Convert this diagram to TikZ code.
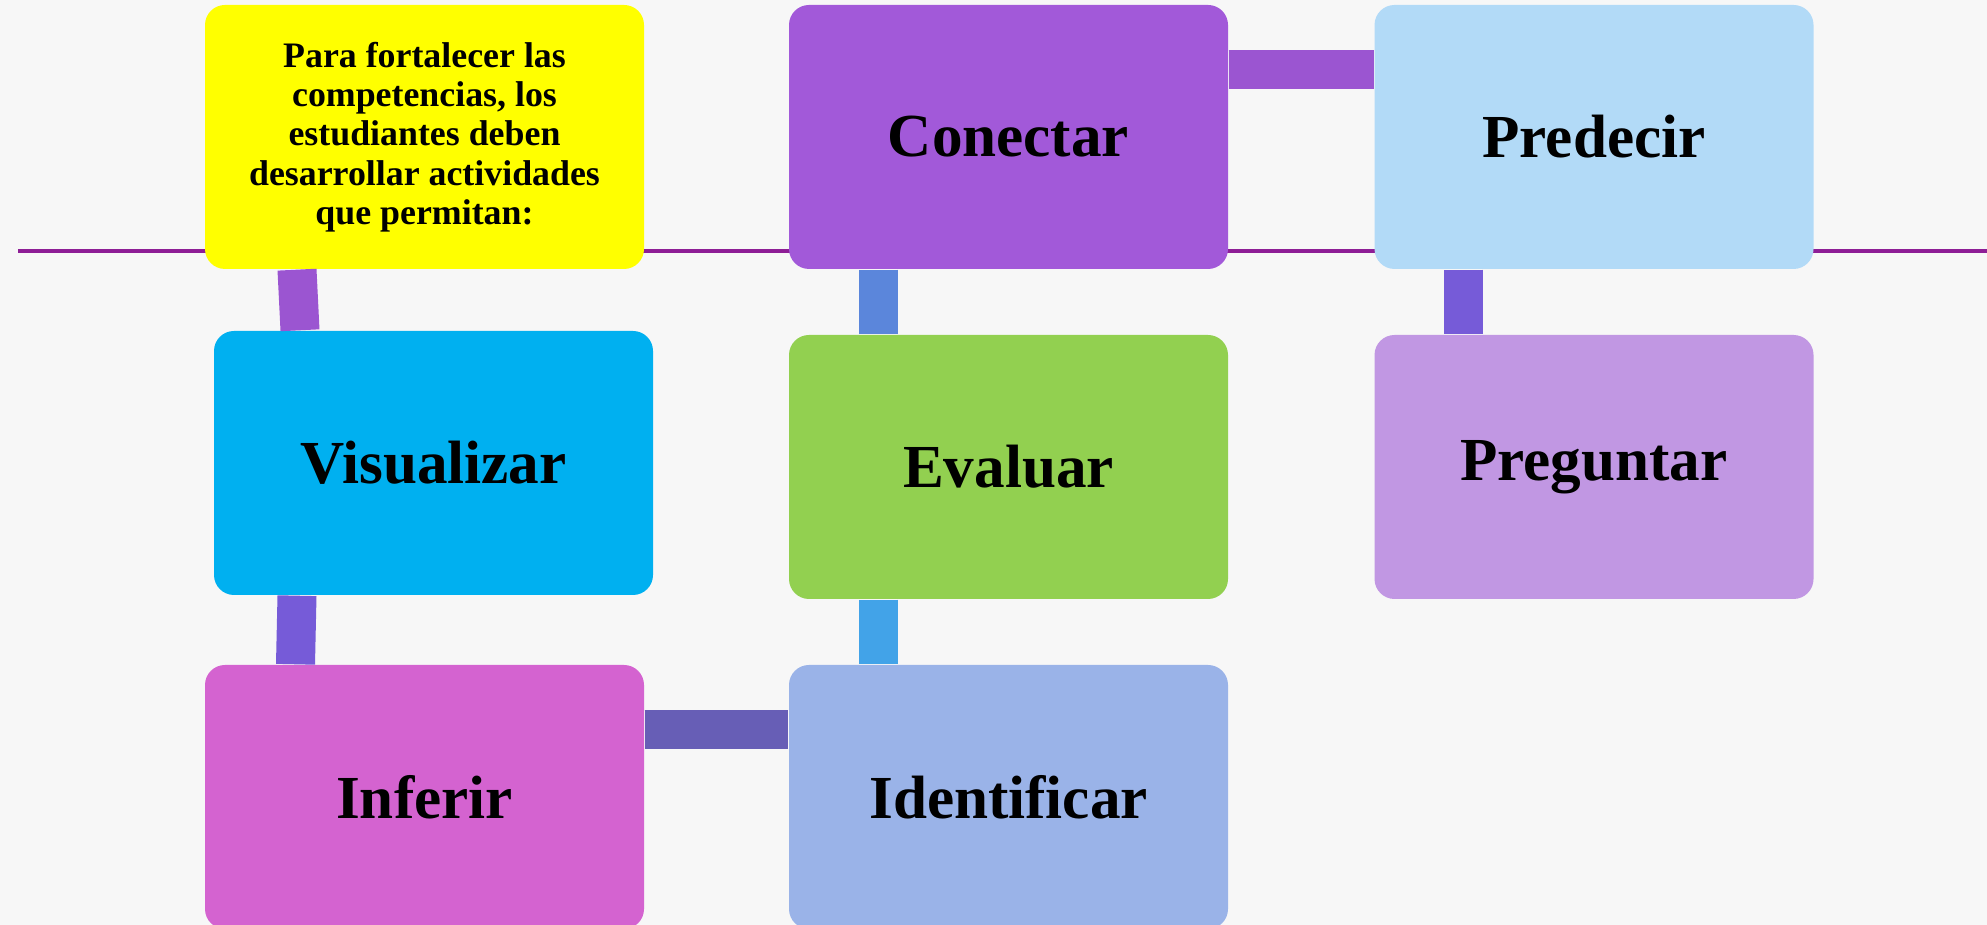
\documentclass[tikz,border=0pt]{standalone}
\usepackage{fontspec}
\setmainfont{Liberation Serif}
\definecolor{fondo}{HTML}{F7F7F7}
\definecolor{raya}{HTML}{8E1E96}
\definecolor{amarillo}{HTML}{FFFF00}
\definecolor{morado}{HTML}{A259D9}
\definecolor{celeste}{HTML}{B2DAF7}
\definecolor{azul}{HTML}{00B0F0}
\definecolor{verde}{HTML}{92D050}
\definecolor{lila}{HTML}{C197E3}
\definecolor{rosa}{HTML}{D463D0}
\definecolor{grisazul}{HTML}{9AB3E8}
\definecolor{e1}{HTML}{9B55D1}
\definecolor{e2}{HTML}{765BD8}
\definecolor{e3}{HTML}{675EB6}
\definecolor{e4}{HTML}{42A3E8}
\definecolor{e5}{HTML}{5B86DB}
\tikzset{caja/.style={rectangle, rounded corners=0.2cm, minimum width=4.39cm, minimum height=2.64cm, inner sep=0pt, align=center, font=\fontsize{17.4}{20}\selectfont\bfseries},
    enlace/.style={line width=0.39cm}}
\begin{document}
    \begin{tikzpicture}
        \useasboundingbox (0,0) rectangle (19.87,9.25);
        \fill[fondo] (0,0) rectangle (19.87,9.25);
        \path[draw, raya, line width=0.9pt] (0.18,6.74) -- (19.87,6.74);
        \node[caja, fill=amarillo, font=\fontsize{10.2}{11.2}\selectfont\bfseries] (1) at (4.245,7.88) {Para fortalecer las\\competencias, los\\estudiantes deben\\desarrollar actividades\\que permitan:};
        \node[caja, fill=morado] (2) at (10.085,7.88) {Conectar};
        \node[caja, fill=celeste] (3) at (15.94,7.88) {Predecir};
        \node[caja, fill=azul] (4) at (4.335,4.62) {Visualizar};
        \node[caja, fill=verde] (5) at (10.085,4.58) {Evaluar};
        \node[caja, fill=lila] (6) at (15.94,4.58) {Preguntar};
        \node[caja, fill=rosa] (7) at (4.245,1.28) {Inferir};
        \node[caja, fill=grisazul] (8) at (10.085,1.28) {Identificar};
        \path[draw, enlace, e1] ([xshift=-1.275cm]1.south) -- ([xshift=-1.335cm]4.north);
        \path[draw, enlace, e2] ([xshift=-1.365cm]4.south) -- ([xshift=-1.29cm]7.north);
        \path[draw, enlace, e3] ([yshift=0.675cm]7.east) -- ([yshift=0.675cm]8.west);
        \path[draw, enlace, e4] ([xshift=-1.305cm]5.south) -- ([xshift=-1.305cm]8.north);
        \path[draw, enlace, e5] ([xshift=-1.305cm]2.south) -- ([xshift=-1.305cm]5.north);
        \path[draw, enlace, e1] ([yshift=0.675cm]2.east) -- ([yshift=0.675cm]3.west);
        \path[draw, enlace, e2] ([xshift=-1.31cm]3.south) -- ([xshift=-1.31cm]6.north);
    \end{tikzpicture}
\end{document}
